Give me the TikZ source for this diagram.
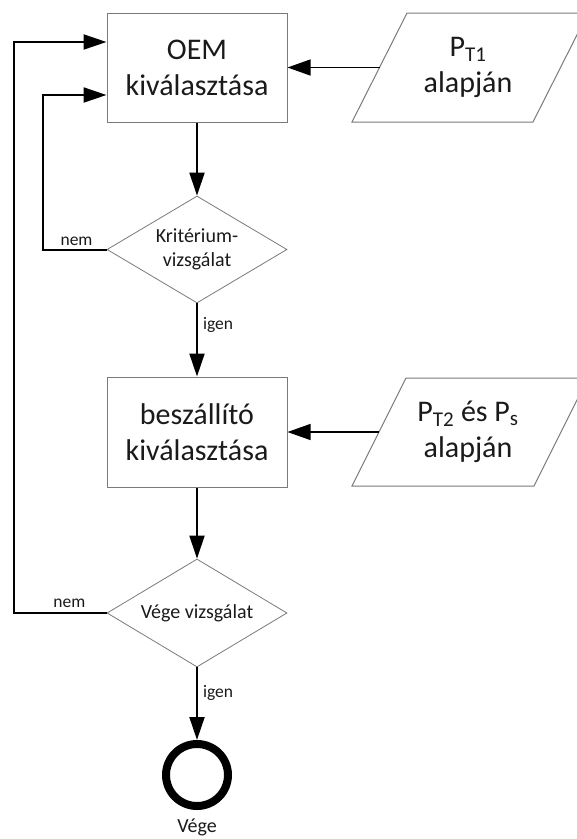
\documentclass[tikz,border=0pt]{standalone}
\usepackage{fontspec}
\setmainfont{Carlito}
\usetikzlibrary{arrows.meta,shapes.geometric,calc}

\definecolor{edgegray}{HTML}{7A7A7A}
\definecolor{ink}{HTML}{1A1A1A}

\tikzset{
  procbox/.style={draw=edgegray, line width=1pt, minimum width=180pt,
    minimum height=109pt, inner sep=0pt, align=center, text=ink,
    font=\fontsize{30}{36}\selectfont},
  decision/.style={diamond, draw=edgegray, line width=0.8pt, shape aspect=1.68,
    minimum width=180pt, minimum height=107pt, inner sep=0pt, align=center,
    text=ink, font=\fontsize{20}{24}\selectfont},
  iobox/.style={draw=edgegray, line width=1pt},
  iotext/.style={align=center, inner sep=0pt, text=ink,
    font=\fontsize{30}{36}\selectfont},
  flow/.style={line width=2pt, -{Triangle[length=23pt,width=15pt]}},
  feed/.style={line width=1.3pt, -{Triangle[length=23pt,width=16pt]}},
  lbl/.style={inner sep=0pt, text=ink, font=\fontsize{17.5}{20}\selectfont},
  endnode/.style={circle, draw=black, line width=8pt, minimum size=62pt, inner sep=0pt}
}

\begin{document}
\begin{tikzpicture}[x=1pt, y=-1pt]
  \useasboundingbox (0,0) rectangle (577,839);

  % main process column
  \node[procbox] (oem)  at (197,67.5) {OEM\\kiválasztása};
  \node[decision] (krit) at (197,249.5) {Kritérium-\\vizsgálat};
  \node[procbox, minimum height=110pt] (besz) at (197,432) {beszállító\\kiválasztása};
  \node[decision, minimum height=108pt] (vege) at (197,613) {Vége vizsgálat};
  \node[endnode] (end) at (197,775) {};
  \node[lbl, font=\fontsize{20}{24}\selectfont, anchor=base] (endlbl) at (197,832) {Vége};

  % input parallelograms
  \draw[iobox] (352,122) -- (407,13) -- (588,13) -- (533,122) -- cycle;
  \node[iotext] (pt1) at (468,67.5) {P\textsubscript{T1}\\alapján};
  \coordinate (pt1w) at (379.5,67.5);

  \draw[iobox] (352,486) -- (406,378) -- (588,378) -- (534,486) -- cycle;
  \node[iotext] (pt2) at (468,432) {P\textsubscript{T2} és P\textsubscript{s}\\alapján};
  \coordinate (pt2w) at (379,432);

  % inputs into the processes
  \draw[feed] (pt1w) -- (oem.east |- pt1w);
  \draw[feed] (pt2w) -- (besz.east |- pt2w);

  % main flow
  \draw[flow] (oem) -- (krit);
  \draw[flow] (krit) -- node[lbl, pos=0.3, anchor=west, xshift=5pt] {igen} (besz);
  \draw[flow] (besz) -- (vege);
  \draw[flow] (vege) -- node[lbl, pos=0.35, anchor=west, xshift=5pt] {igen} (end);

  % feedback loops
  \draw[flow] (krit.west) -- node[lbl, pos=0.47, above=3pt] {nem} ++(-64,0)
    |- ($(oem.west)+(0,27.5)$);
  \draw[flow] (vege.west) -- node[lbl, pos=0.40, above=4pt] {nem} ++(-93,0)
    |- ($(oem.west)+(0,-25.5)$);
\end{tikzpicture}
\end{document}
